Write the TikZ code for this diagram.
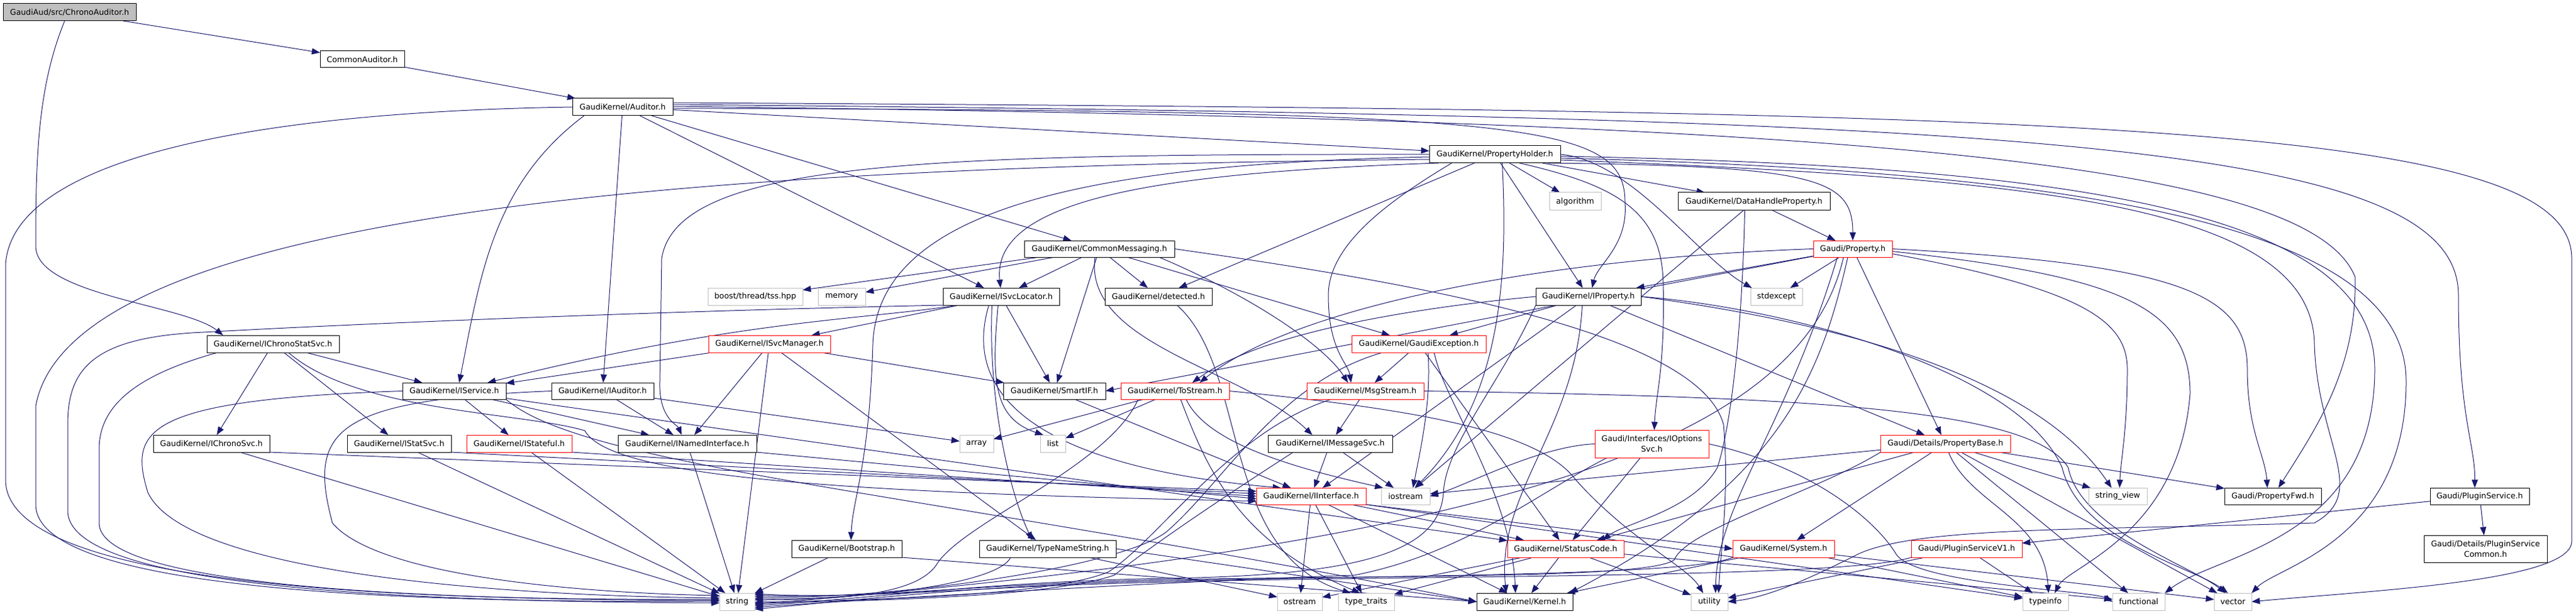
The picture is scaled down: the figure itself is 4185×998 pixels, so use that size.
\documentclass[tikz,border=0pt]{standalone}
\usepackage{fontspec}
\setmainfont{DejaVu Sans}
\usetikzlibrary{arrows.meta,calc}
\pgfdeclarelayer{back}
\pgfdeclarelayer{edges}
\pgfsetlayers{back,edges,main}
\definecolor{edgec}{HTML}{191970}
\definecolor{sysgray}{HTML}{BFBFBF}
\definecolor{rootfill}{HTML}{BFBFBF}
\definecolor{redb}{HTML}{FF0000}
\tikzset{
  nb/.style={draw=black, fill=white, text=black, line width=0.75pt, inner sep=0pt, outer sep=0pt,
             font=\fontsize{9.6pt}{12.75pt}\selectfont, align=center},
  nred/.style={nb, draw=redb},
  ngray/.style={nb, draw=sysgray},
  nroot/.style={nb, fill=rootfill},
  dep/.style={draw=edgec, line width=0.75pt, -{Triangle[length=10pt,width=7.5pt]}},
}
\newcommand{\nd}[7]{%
  \node[#6, minimum width={(#4-#2)*0.75pt}, minimum height={(#5-#3)*0.75pt}] (#1) at ({(#2+#4)/2},{(#3+#5)/2}) {#7};}
\begin{document}
\begin{tikzpicture}[x=0.75pt,y=-0.75pt]
\useasboundingbox (0,0) rectangle (4185,998);
\begin{pgfonlayer}{back}
\fill[white] (0,0) rectangle (4185,998);
\end{pgfonlayer}
% ---------------- nodes
\nd{chrono}{5}{6}{221}{34}{nroot}{GaudiAud/src/ChronoAuditor.h}
\nd{commonaud}{520}{83}{657}{110}{nb}{CommonAuditor.h}
\nd{auditor}{930}{160}{1093}{188}{nb}{GaudiKernel/Auditor.h}
\nd{propholder}{2322}{237}{2535}{265}{nb}{GaudiKernel/PropertyHolder.h}
\nd{algorithm}{2517}{313}{2601}{342}{ngray}{algorithm}
\nd{dhp}{2726}{313}{2973}{342}{nb}{GaudiKernel/DataHandleProperty.h}
\nd{commsg}{1664}{391}{1908}{418}{nb}{GaudiKernel/CommonMessaging.h}
\nd{property}{2946}{391}{3074}{418}{nred}{Gaudi/Property.h}
\nd{tss}{1150}{468}{1304}{496}{ngray}{boost/thread/tss.hpp}
\nd{memory}{1329}{468}{1406}{496}{ngray}{memory}
\nd{svcloc}{1532}{468}{1721}{496}{nb}{GaudiKernel/ISvcLocator.h}
\nd{detected}{1795}{468}{1969}{496}{nb}{GaudiKernel/detected.h}
\nd{iprop}{2495}{468}{2666}{496}{nb}{GaudiKernel/IProperty.h}
\nd{stdexcept}{2844}{468}{2928}{496}{ngray}{stdexcept}
\nd{chronostat}{336}{545}{551}{573}{nb}{GaudiKernel/IChronoStatSvc.h}
\nd{svcmgr}{1151}{545}{1349}{573}{nred}{GaudiKernel/ISvcManager.h}
\nd{gexc}{2196}{545}{2414}{573}{nred}{GaudiKernel/GaudiException.h}
\nd{iservice}{654}{622}{822}{649}{nb}{GaudiKernel/IService.h}
\nd{iauditor}{896}{622}{1062}{649}{nb}{GaudiKernel/IAuditor.h}
\nd{smartif}{1630}{622}{1796}{649}{nb}{GaudiKernel/SmartIF.h}
\nd{tostream}{1821}{622}{1997}{649}{nred}{GaudiKernel/ToStream.h}
\nd{msgstream}{2123}{622}{2313}{649}{nred}{GaudiKernel/MsgStream.h}
\nd{ichrono}{249}{707}{438}{735}{nb}{GaudiKernel/IChronoSvc.h}
\nd{istat}{564}{707}{733}{735}{nb}{GaudiKernel/IStatSvc.h}
\nd{istateful}{758}{707}{929}{735}{nred}{GaudiKernel/IStateful.h}
\nd{inamed}{1004}{707}{1229}{735}{nb}{GaudiKernel/INamedInterface.h}
\nd{array}{1559}{707}{1614}{735}{ngray}{array}
\nd{list}{1690}{707}{1731}{735}{ngray}{list}
\nd{imsgsvc}{2060}{707}{2262}{735}{nb}{GaudiKernel/IMessageSvc.h}
\nd{optsvc}{2591}{699}{2776}{744}{nred}{Gaudi/Interfaces/IOptions\\Svc.h}
\nd{propbase}{3055}{707}{3266}{735}{nred}{Gaudi/Details/PropertyBase.h}
\nd{iinterface}{2041}{793}{2219}{820}{nred}{GaudiKernel/IInterface.h}
\nd{iostream}{2244}{793}{2323}{820}{ngray}{iostream}
\nd{stringview}{3393}{793}{3488}{820}{ngray}{string\_view}
\nd{propfwd}{3614}{793}{3771}{820}{nb}{Gaudi/PropertyFwd.h}
\nd{pluginsvc}{3948}{793}{4109}{820}{nb}{Gaudi/PluginService.h}
\nd{bootstrap}{1286}{878}{1465}{906}{nb}{GaudiKernel/Bootstrap.h}
\nd{typename}{1591}{878}{1813}{906}{nb}{GaudiKernel/TypeNameString.h}
\nd{statuscode}{2449}{878}{2638}{906}{nred}{GaudiKernel/StatusCode.h}
\nd{system}{2815}{878}{2980}{906}{nred}{GaudiKernel/System.h}
\nd{pluginv1}{3105}{878}{3285}{906}{nred}{Gaudi/PluginServiceV1.h}
\nd{plugincommon}{3938}{870}{4138}{914}{nb}{Gaudi/Details/PluginService\\Common.h}
\nd{string}{1169}{964}{1226}{992}{ngray}{string}
\nd{ostream}{2075}{964}{2148}{992}{ngray}{ostream}
\nd{typetraits}{2174}{964}{2265}{992}{ngray}{type\_traits}
\nd{kernel}{2399}{964}{2555}{992}{nb}{GaudiKernel/Kernel.h}
\nd{utility}{2747}{964}{2807}{992}{ngray}{utility}
\nd{typeinfo}{3286}{964}{3360}{992}{ngray}{typeinfo}
\nd{functional}{3432}{964}{3517}{992}{ngray}{functional}
\nd{vector}{3597}{964}{3658}{992}{ngray}{vector}
% ---------------- edges
\begin{pgfonlayer}{edges}
% chrono
\draw[dep] (chrono) -- (commonaud);
\draw[dep] ($(chrono.south)+(-8,0)$) .. controls (62,140) and (58,250) .. (58,400) .. controls (58,480) and (300,495) .. ($(chronostat.north)+(-81,0)$);
% commonaud
\draw[dep] (commonaud) -- (auditor);
% auditor
\draw[dep] (auditor) -- (propholder);
\draw[dep] (auditor) -- (commsg);
\draw[dep] (auditor) -- (svcloc);
\draw[dep] (auditor) -- (iauditor);
\draw[dep] ($(auditor.south west)+(19,0)$) .. controls (800,300) and (780,450) .. ($(iservice.north)+(8,0)$);
\draw[dep] (auditor.west) .. controls (400,182) and (20,260) .. (9,430) -- (9,780) .. controls (9,960) and (700,976) .. ($(string.west)+(0,-4)$);
\draw[dep] ($(auditor.east)+(0,2)$) .. controls (2500,180) and (2640,200) .. (2640,330) .. controls (2645,400) and (2595,430) .. ($(iprop.north)+(6,0)$);
\draw[dep] ($(auditor.east)+(0,-1)$) .. controls (3000,195) and (3750,260) .. (3826,450) .. controls (3830,600) and (3760,700) .. ($(propfwd.north)+(9,0)$);
\draw[dep] ($(auditor.east)+(0,-4)$) .. controls (3300,190) and (3994,230) .. (3994,480) .. controls (3994,680) and (4021,720) .. ($(pluginsvc.north)+(-8,0)$);
\draw[dep] ($(auditor.east)+(0,-7)$) .. controls (3400,180) and (4178,200) .. (4178,420) -- (4178,880) .. controls (4178,945) and (3850,960) .. (vector.east);
% propholder
\draw[dep] (propholder) -- (algorithm);
\draw[dep] (propholder) -- (dhp);
\draw[dep] (propholder) -- (iprop);
\draw[dep] (propholder) -- (detected);
\draw[dep] ($(propholder.south east)+(-20,0)$) .. controls (2950,270) and (3010,290) .. (property.north);
\draw[dep] ($(propholder.south west)+(15,0)$) .. controls (1900,280) and (1610,320) .. ($(svcloc.north)+(-1,0)$);
\draw[dep] ($(propholder.south)+(-70,0)$) .. controls (2250,330) and (2158,400) .. (2158,480) .. controls (2158,570) and (2190,590) .. ($(msgstream.north)+(-23,0)$);
\draw[dep] ($(propholder.west)+(0,4)$) .. controls (1800,266) and (1425,330) .. (1418,560) .. controls (1412,760) and (1385,810) .. ($(bootstrap.north)+(7,0)$);
\draw[dep] (propholder.west) .. controls (1500,250) and (1100,262) .. (1075,420) -- (1072,620) .. controls (1070,680) and (1100,690) .. ($(inamed.north)+(-9,0)$);
\draw[dep] ($(propholder.west)+(0,8)$) .. controls (1300,270) and (120,320) .. (58,660) -- (58,820) .. controls (58,965) and (700,980) .. ($(string.west)+(0,-1)$);
\draw[dep] ($(propholder.south)+(40,0)$) .. controls (2620,300) and (2700,340) .. (2702,460) .. controls (2705,600) and (2690,640) .. ($(optsvc.north)+(4,0)$);
\draw[dep] ($(propholder.south)+(12,0)$) .. controls (2450,450) and (2440,650) .. ($(iostream.north)+(15,0)$);
\draw[dep] (propholder.east) .. controls (2650,260) and (2760,420) .. ($(stdexcept.north west)+(2,0)$);
\draw[dep] ($(propholder.east)+(0,3)$) .. controls (3400,270) and (3858,350) .. (3858,600) .. controls (3858,880) and (3600,900) .. (functional.north east);
\draw[dep] ($(propholder.east)+(0,6)$) .. controls (3450,280) and (3909,380) .. (3909,620) .. controls (3909,880) and (3700,920) .. (vector.north east);
\draw[dep] ($(propholder.east)+(0,9)$) .. controls (3300,290) and (3757,330) .. (3760,560) .. controls (3765,720) and (3850,800) .. (3760,850) .. controls (3400,862) and (3120,855) .. (3020,900) .. controls (2960,930) and (2880,970) .. (utility.east);
% dhp
\draw[dep] (dhp) -- (property);
\draw[dep] ($(dhp.south)+(-15,0)$) .. controls (2830,550) and (2810,700) .. (2790,760) .. controls (2750,830) and (2640,850) .. ($(statuscode.north)+(60,0)$);
\draw[dep] (dhp) -- (iostream);
% commsg
\draw[dep] (commsg) -- (tss);
\draw[dep] (commsg) -- (memory);
\draw[dep] (commsg) -- (svcloc);
\draw[dep] (commsg) -- (detected);
\draw[dep] (commsg) -- (gexc);
\draw[dep] (commsg) -- (smartif);
\draw[dep] ($(commsg.south east)+(-25,0)$) .. controls (2030,480) and (2150,560) .. ($(msgstream.north)+(-28,0)$);
\draw[dep] ($(commsg.south)+(-7,0)$) .. controls (1760,560) and (2020,600) .. ($(imsgsvc.north)+(-29,0)$);
\draw[dep] (commsg.east) .. controls (2300,460) and (2760,540) .. (2800,690) .. controls (2810,800) and (2795,900) .. ($(utility.north)+(15,0)$);
% property
\draw[dep] (property) -- (propbase);
\draw[dep] (property) -- (iprop);
\draw[dep] (property) -- (stdexcept);
\draw[dep] (property) -- (smartif.east);
\draw[dep] (property.west) .. controls (2500,420) and (2100,500) .. ($(tostream.north)+(40,0)$);
\draw[dep] ($(property.south)+(-8,0)$) .. controls (2960,600) and (2900,780) .. ($(kernel.north east)+(-5,0)$);
\draw[dep] ($(property.south)+(-15,0)$) .. controls (2930,700) and (2500,880) .. ($(string.east)+(0,4)$);
\draw[dep] ($(property.south)+(-25,0)$) .. controls (2900,700) and (2790,820) .. ($(utility.north)+(10,0)$);
\draw[dep] (property.east) .. controls (3550,430) and (3651,480) .. (3651,600) .. controls (3651,700) and (3680,740) .. ($(propfwd.north)+(-9,0)$);
\draw[dep] ($(property.east)+(0,4)$) .. controls (3450,450) and (3558,500) .. (3558,640) .. controls (3540,870) and (3360,920) .. ($(typeinfo.north)+(15,0)$);
\draw[dep] ($(property.east)+(0,8)$) .. controls (3380,470) and (3456,520) .. (3456,600) .. controls (3456,700) and (3445,750) .. ($(stringview.north)+(3,0)$);
% svcloc
\draw[dep] ($(svcloc.south)+(-20,0)$) .. controls (1560,650) and (1700,760) .. ($(iinterface.north west)+(40,0)$);
\draw[dep] (svcloc) -- (svcmgr);
\draw[dep] (svcloc) -- (smartif);
\draw[dep] ($(svcloc.south)+(-15,0)$) .. controls (1605,650) and (1640,800) .. ($(typename.north)+(-25,0)$);
\draw[dep] ($(svcloc.south)+(-5,0)$) .. controls (1610,620) and (1615,680) .. ($(list.north west)+(5,0)$);
\draw[dep] ($(svcloc.south west)+(25,0)$) .. controls (1400,520) and (1200,520) .. ($(iservice.north east)+(-30,0)$);
\draw[dep] (svcloc.south west) .. controls (1100,505) and (600,525) .. (330,540) .. controls (150,548) and (110,600) .. (110,690) -- (110,830) .. controls (110,960) and (700,978) .. ($(string.west)+(0,2)$);
% svcmgr
\draw[dep] (svcmgr) -- (iservice);
\draw[dep] (svcmgr) -- (smartif);
\draw[dep] (svcmgr) -- (typename);
\draw[dep] (svcmgr) -- (inamed);
\draw[dep] (svcmgr) -- (string);
% iprop
\draw[dep] (iprop) -- (gexc);
\draw[dep] (iprop.west) .. controls (2300,500) and (2050,540) .. ($(tostream.north)+(28,0)$);
\draw[dep] (iprop) -- (iinterface);
\draw[dep] ($(iprop.south)+(-10,0)$) .. controls (2560,700) and (2430,800) .. ($(kernel.north)+(-30,0)$);
\draw[dep] (iprop) -- (propbase);
\draw[dep] (iprop.east) .. controls (2900,500) and (3280,600) .. (3350,760) .. controls (3380,880) and (3560,920) .. ($(vector.north)+(-8,0)$);
\draw[dep] (iprop.east) .. controls (2950,520) and (3300,600) .. ($(stringview.north)+(-10,0)$);
\draw[dep] (iprop.south west) .. controls (2440,620) and (2350,720) .. (2345,800) .. controls (2340,900) and (2200,935) .. (1900,940) .. controls (1600,945) and (1400,975) .. ($(string.east)+(0,6)$);
% chronostat
\draw[dep] (chronostat) -- (ichrono);
\draw[dep] (chronostat) -- (istat);
\draw[dep] (chronostat) -- (iservice);
\draw[dep] ($(chronostat.south)+(25,0)$) .. controls (580,670) and (850,670) .. (950,700) .. controls (990,770) and (1300,800) .. ($(iinterface.west)+(0,8)$);
\draw[dep] ($(chronostat.south)+(-90,0)$) .. controls (220,610) and (161,660) .. (161,730) -- (161,850) .. controls (161,955) and (700,975) .. ($(string.west)+(0,-2)$);
% gexc
\draw[dep] (gexc) -- (msgstream);
\draw[dep] ($(gexc.south)+(15,0)$) .. controls (2325,650) and (2310,720) .. ($(iostream.north)+(12,0)$);
\draw[dep] ($(gexc.south)+(25,0)$) .. controls (2345,650) and (2455,800) .. ($(kernel.north)+(-15,0)$);
\draw[dep] (gexc) -- (statuscode);
\draw[dep] ($(gexc.south west)+(50,0)$) .. controls (2080,620) and (1990,780) .. (1900,860) .. controls (1840,920) and (1450,975) .. ($(string.east)+(0,-8)$);
% iservice
\draw[dep] (iservice) -- (inamed);
\draw[dep] (iservice) -- (istateful);
\draw[dep] (iservice.south east) .. controls (950,760) and (1500,800) .. (kernel.west);
\draw[dep] (iservice) -- (statuscode);
\draw[dep] (iservice.west) .. controls (230,650) and (210,700) .. (240,800) .. controls (300,930) and (800,968) .. ($(string.west)+(0,-6)$);
% iauditor
\draw[dep] (iauditor) -- (inamed);
\draw[dep] (iauditor) -- (array);
\draw[dep] (iauditor.west) .. controls (540,650) and (500,700) .. (540,850) .. controls (620,945) and (1000,965) .. ($(string.north west)+(0,4)$);
% smartif
\draw[dep] (smartif) -- (iinterface);
% tostream
\draw[dep] (tostream) -- (array);
\draw[dep] (tostream) -- (list);
\draw[dep] ($(tostream.south)+(18,0)$) .. controls (1960,720) and (2100,760) .. ($(iostream.north west)+(3,0)$);
\draw[dep] ($(tostream.south)+(9,0)$) .. controls (1960,760) and (2010,880) .. ($(typetraits.north)+(-10,0)$);
\draw[dep] ($(tostream.south)+(-60,0)$) .. controls (1800,760) and (1560,850) .. (1520,920) .. controls (1490,960) and (1400,975) .. ($(string.east)+(0,-3)$);
\draw[dep] (tostream.east) .. controls (2300,665) and (2500,700) .. (2560,780) .. controls (2650,880) and (2740,920) .. ($(utility.north)+(-10,0)$);
% msgstream
\draw[dep] (msgstream) -- (imsgsvc);
\draw[dep] ($(msgstream.south)+(-55,0)$) .. controls (2000,700) and (1880,880) .. (1800,930) .. controls (1700,970) and (1400,975) .. ($(string.east)+(0,1)$);
\draw[dep] (msgstream.east) .. controls (2900,645) and (3300,660) .. (3360,760) .. controls (3380,860) and (3560,920) .. ($(vector.north)+(-12,0)$);
% detected
\draw[dep] ($(detected.south)+(30,0)$) .. controls (2030,600) and (1980,900) .. ($(typetraits.north)+(-25,0)$);
% rank-9 interfaces
\draw[dep] (ichrono.south east) -- ($(iinterface.west)+(0,-8)$);
\draw[dep] (ichrono) -- (string);
\draw[dep] (istat.south east) -- ($(iinterface.west)+(0,-4)$);
\draw[dep] (istat) -- (string);
\draw[dep] (istateful.south east) -- (iinterface.west);
\draw[dep] (istateful) -- (string);
\draw[dep] (inamed.south east) -- ($(iinterface.west)+(0,4)$);
\draw[dep] (inamed) -- (string);
% imsgsvc
\draw[dep] (imsgsvc) -- (iinterface);
\draw[dep] (imsgsvc) -- (iostream);
\draw[dep] ($(imsgsvc.south)+(-60,0)$) .. controls (2000,800) and (1880,880) .. (1810,935) .. controls (1700,972) and (1400,976) .. ($(string.east)+(0,3)$);
% optsvc
\draw[dep] (optsvc.west) .. controls (2500,725) and (2380,790) .. (iostream.east);
\draw[dep] (optsvc) -- (statuscode);
\draw[dep] (optsvc.east) .. controls (2950,760) and (3050,850) .. (3080,900) .. controls (3110,950) and (3400,960) .. (functional.west);
\draw[dep] ($(optsvc.south west)+(20,0)$) .. controls (2500,800) and (2380,900) .. (2200,935) .. controls (1900,945) and (1400,975) .. ($(string.east)+(0,9)$);
% propbase
\draw[dep] (propbase) -- (propfwd);
\draw[dep] (propbase) -- (stringview);
\draw[dep] (propbase) -- (iostream);
\draw[dep] (propbase) -- (statuscode);
\draw[dep] (propbase) -- (system);
\draw[dep] ($(propbase.south)+(5,0)$) .. controls (3200,820) and (3320,840) .. ($(typeinfo.north)+(5,0)$);
\draw[dep] (propbase) -- (functional);
\draw[dep] (propbase) -- (vector);
\draw[dep] (propbase.south west) .. controls (2950,800) and (2740,860) .. (2720,910) .. controls (2680,940) and (2300,935) .. (1900,942) .. controls (1600,948) and (1400,975) .. ($(string.east)+(0,-11)$);
% iinterface
\draw[dep] (iinterface) -- (ostream);
\draw[dep] (iinterface) -- (typetraits);
\draw[dep] (iinterface) -- (kernel);
\draw[dep] (iinterface) -- (statuscode);
\draw[dep] (iinterface.south east) -- (system.west);
\draw[dep] (iinterface.south east) -- (typeinfo);
% pluginsvc
\draw[dep] (pluginsvc) -- (pluginv1);
\draw[dep] (pluginsvc) -- (plugincommon);
% bootstrap
\draw[dep] (bootstrap) -- (string);
\draw[dep] (bootstrap.south east) -- (kernel.west);
% typename
\draw[dep] ($(typename.south)+(-60,0)$) .. controls (1620,950) and (1400,975) .. ($(string.east)+(0,-5)$);
\draw[dep] (typename) -- (ostream);
\draw[dep] (typename.east) -- (kernel.west);
% statuscode
\draw[dep] (statuscode) -- (ostream);
\draw[dep] (statuscode) -- (typetraits);
\draw[dep] (statuscode) -- (kernel);
\draw[dep] (statuscode) -- (utility);
\draw[dep] (statuscode) -- (functional);
% system
\draw[dep] (system) -- (kernel);
\draw[dep] (system.south west) .. controls (2750,935) and (2300,935) .. (1900,944) .. controls (1600,950) and (1400,975) .. ($(string.east)+(0,12)$);
\draw[dep] (system) -- (typeinfo);
\draw[dep] (system) -- (vector);
% pluginv1
\draw[dep] (pluginv1.south west) .. controls (3000,940) and (2300,935) .. (1900,946) .. controls (1600,952) and (1400,975) .. ($(string.east)+(0,-13)$);
\draw[dep] (pluginv1) -- (utility);
\draw[dep] (pluginv1) -- (typeinfo);
\end{pgfonlayer}
\end{tikzpicture}
\end{document}
